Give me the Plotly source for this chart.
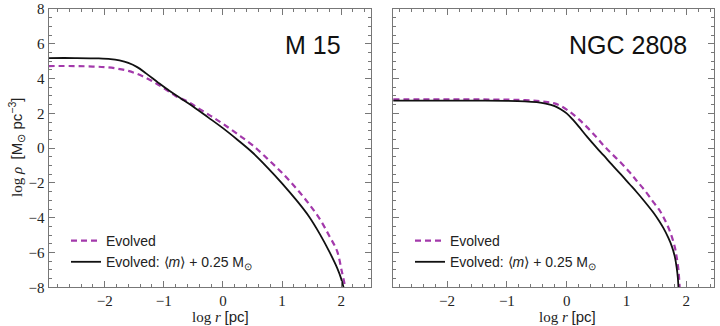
import plotly.graph_objects as go

# ---------------- data ----------------
m15_evolved_x = [-2.95, -2.5, -2.2, -2.0, -1.8, -1.6, -1.4, -1.2, -1.0, -0.8, -0.6, -0.4, -0.2, 0.0, 0.25, 0.5,
                 0.75, 1.0, 1.25, 1.45, 1.64, 1.8, 1.93, 2.01, 2.07]
m15_evolved_y = [4.72, 4.72, 4.69, 4.66, 4.58, 4.44, 4.2, 3.86, 3.45, 3.0, 2.68, 2.26, 1.84, 1.4, 0.8, 0.17,
                 -0.6, -1.42, -2.35, -3.18, -4.08, -5.05, -5.91, -7.06, -8.0]

m15_heavy_x = [-2.95, -2.5, -2.1, -1.9, -1.75, -1.6, -1.45, -1.3, -1.1, -0.9, -0.7, -0.5, -0.25, 0.0, 0.25, 0.5,
               0.75, 1.0, 1.25, 1.45, 1.64, 1.8, 1.93, 2.0, 2.04]
m15_heavy_y = [5.18, 5.18, 5.16, 5.12, 5.04, 4.9, 4.66, 4.3, 3.78, 3.28, 2.83, 2.38, 1.77, 1.15, 0.47, -0.25,
               -1.1, -2.02, -3.02, -3.9, -4.94, -5.95, -6.87, -7.5, -8.0]

ngc_evolved_x = [-2.9, -1.5, -1.0, -0.7, -0.5, -0.35, -0.22, -0.1, 0.06, 0.2, 0.34, 0.5, 0.62, 0.75, 0.9, 1.05,
                 1.17, 1.3, 1.45, 1.55, 1.62, 1.7, 1.76, 1.81, 1.84, 1.87, 1.89]
ngc_evolved_y = [2.8, 2.8, 2.79, 2.76, 2.72, 2.66, 2.59, 2.43, 2.07, 1.67, 1.21, 0.62, 0.15, -0.31, -0.81, -1.37,
                 -1.87, -2.4, -3.1, -3.55, -3.97, -4.55, -5.1, -5.7, -6.25, -7.0, -8.0]

ngc_heavy_x = [-2.9, -1.5, -1.0, -0.7, -0.5, -0.35, -0.2, -0.1, 0.0, 0.1, 0.2, 0.34, 0.5, 0.62, 0.75, 0.9, 1.05,
               1.17, 1.3, 1.45, 1.55, 1.62, 1.7, 1.76, 1.81, 1.84, 1.86, 1.87]
ngc_heavy_y = [2.73, 2.73, 2.72, 2.69, 2.64, 2.56, 2.42, 2.24, 2.0, 1.65, 1.25, 0.66, 0.03, -0.42, -0.92, -1.48, -2.06,
               -2.52, -3.05, -3.7, -4.2, -4.6, -5.15, -5.65, -6.25, -6.85, -7.45, -8.0]

x_ticks = [-2, -1, 0, 1, 2]
x_tick_text = ["−2", "−1", "0", "1", "2"]
y_ticks = [-8, -6, -4, -2, 0, 2, 4, 6, 8]
y_tick_text = ["−8", "−6", "−4", "−2", "0", "2", "4", "6", "8"]
panel_names = ["M 15", "NGC 2808"]
legend_names = ["Evolved", "Evolved: ⟨<i>m</i>⟩ + 0.25 M<sub>⊙</sub>"]

# ---------------- style ----------------
MAGENTA = "#a339ab"
BLACK = "#111111"
SERIF = "Liberation Serif, DejaVu Serif, serif"
SANS = "Liberation Sans, Arial, sans-serif"
W, H = 720, 326

fig = go.Figure()

def add_pair(xa, ya, ex, ey, hx, hy, legend):
    fig.add_trace(go.Scatter(x=ex, y=ey, mode="lines", name=legend_names[0],
                             line=dict(color=MAGENTA, width=2.2, dash="6px,4px", shape="spline", smoothing=1.0),
                             xaxis=xa, yaxis=ya, legend=legend))
    fig.add_trace(go.Scatter(x=hx, y=hy, mode="lines", name=legend_names[1],
                             line=dict(color=BLACK, width=1.8, shape="spline", smoothing=1.0),
                             xaxis=xa, yaxis=ya, legend=legend))

add_pair("x", "y", m15_evolved_x, m15_evolved_y, m15_heavy_x, m15_heavy_y, "legend")
add_pair("x2", "y2", ngc_evolved_x, ngc_evolved_y, ngc_heavy_x, ngc_heavy_y, "legend2")

def px(v):
    return v / W

def py(v):
    return 1 - v / H

axis_common = dict(showline=True, linecolor="#777777", linewidth=1, mirror="ticks",
                   ticks="inside", ticklen=6, tickwidth=1, tickcolor="#777777",
                   showgrid=False, zeroline=False, automargin=False,
                   tickfont=dict(family=SERIF, size=15, color="#222222"))
minor_x = dict(dtick=0.2, ticks="inside", ticklen=3, tickcolor="#777777")
minor_y = dict(dtick=0.5, ticks="inside", ticklen=3, tickcolor="#777777")

xdom1 = [px(48.5), px(371.3)]
xdom2 = [px(392.7), px(714.3)]
ydom = [py(287.3), py(9)]

legend_common = dict(xanchor="left", yanchor="top", bgcolor="rgba(0,0,0,0)",
                     font=dict(family=SANS, size=14, color="#222222"), tracegroupgap=0)

fig.update_layout(
    width=W, height=H, margin=dict(l=0, r=0, t=0, b=0),
    paper_bgcolor="white", plot_bgcolor="white",
    xaxis=dict(domain=xdom1, range=[-2.95, 2.51], tickvals=x_ticks, ticktext=x_tick_text,
               minor=minor_x, anchor="y", **axis_common),
    yaxis=dict(domain=ydom, range=[-8, 8], tickvals=y_ticks, ticktext=y_tick_text,
               minor=minor_y, anchor="x", **axis_common),
    xaxis2=dict(domain=xdom2, range=[-2.91, 2.47], tickvals=x_ticks, ticktext=x_tick_text,
                minor=minor_x, anchor="y2", **axis_common),
    yaxis2=dict(domain=ydom, range=[-8, 8], tickvals=y_ticks, showticklabels=False,
                minor=minor_y, anchor="x2", **axis_common),
    legend=dict(x=px(66), y=py(225), **legend_common),
    legend2=dict(x=px(410), y=py(225), **legend_common),
)

annotations = [
    dict(text=panel_names[0], x=px(343), y=py(45), xref="paper", yref="paper", xanchor="right", yanchor="middle",
         showarrow=False, font=dict(family=SANS, size=25, color="#111111")),
    dict(text=panel_names[1], x=px(689), y=py(45), xref="paper", yref="paper", xanchor="right", yanchor="middle",
         showarrow=False, font=dict(family=SANS, size=25, color="#111111")),
    dict(text='log <i>r</i> <span style="font-family:Liberation Sans">[pc]</span>', x=px(220), y=py(316),
         xref="paper", yref="paper", xanchor="center", yanchor="middle", showarrow=False,
         font=dict(family=SERIF, size=15, color="#222222")),
    dict(text='log <i>r</i> <span style="font-family:Liberation Sans">[pc]</span>', x=px(567), y=py(316),
         xref="paper", yref="paper", xanchor="center", yanchor="middle", showarrow=False,
         font=dict(family=SERIF, size=15, color="#222222")),
    dict(text='log <i>ρ</i>  <span style="font-family:Liberation Sans">[M<sub>⊙</sub> pc<sup>−3</sup>]</span>',
         x=px(16), y=py(148), xref="paper", yref="paper", xanchor="center", yanchor="middle",
         textangle=-90, showarrow=False, font=dict(family=SERIF, size=15, color="#222222")),
]
fig.update_layout(annotations=annotations)

fig.write_html("out.html", config={"displayModeBar": False},
               post_script="document.body.style.margin='0px';document.body.style.overflow='hidden';")
